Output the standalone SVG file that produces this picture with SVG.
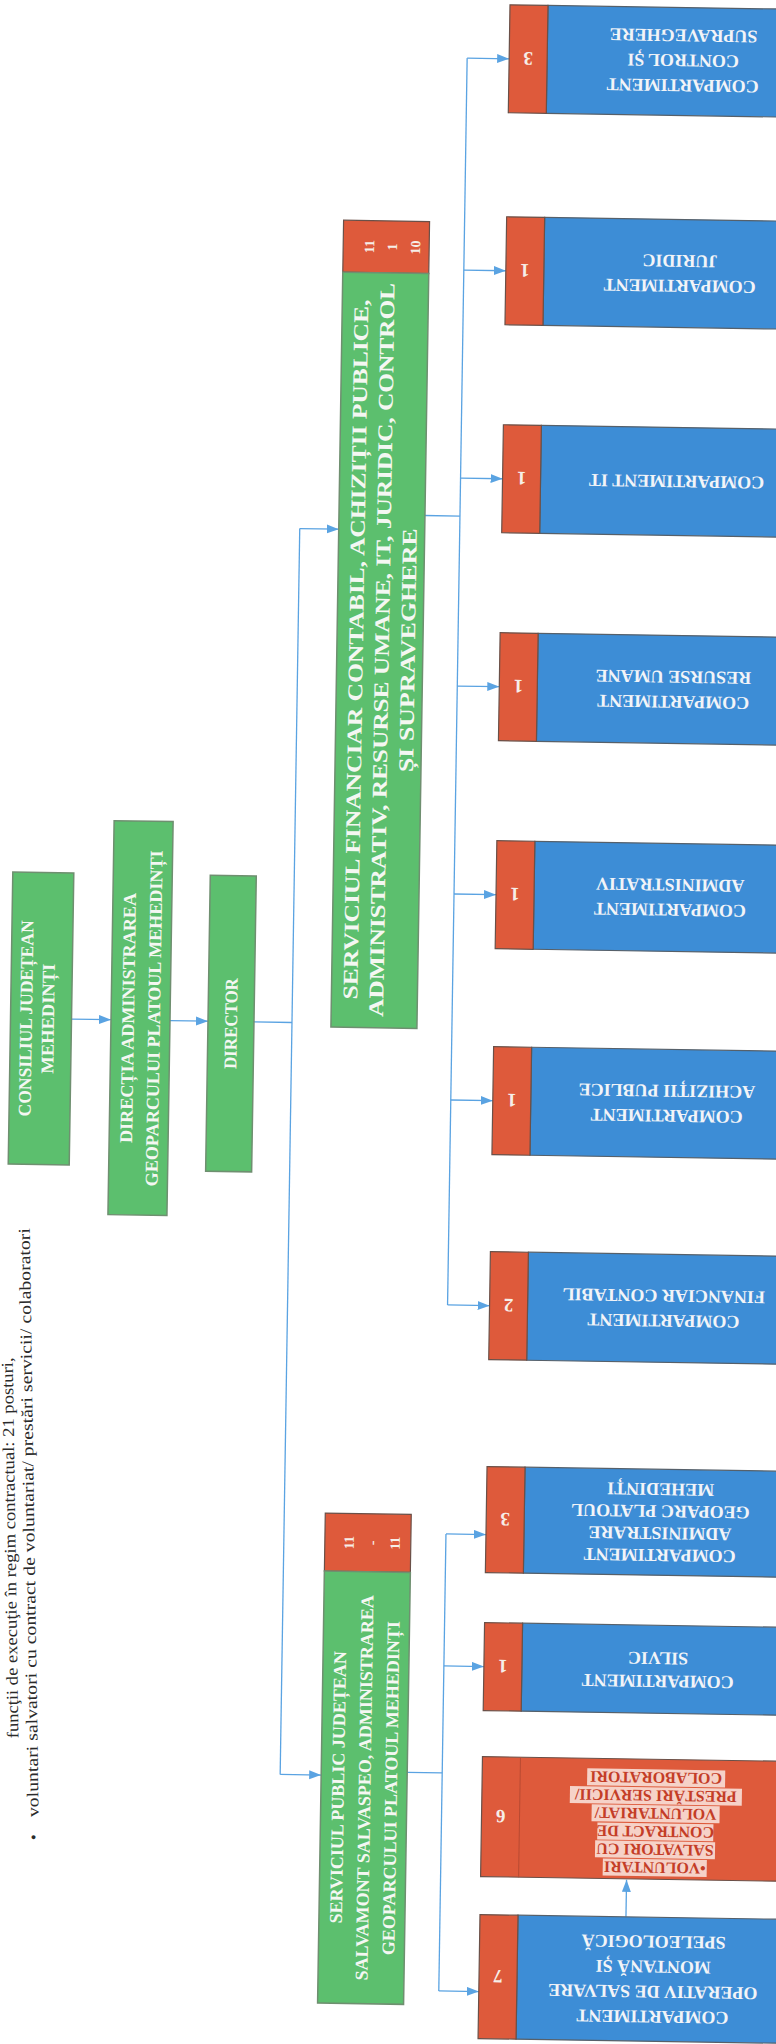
<svg xmlns="http://www.w3.org/2000/svg" width="776" height="2044" viewBox="0 0 776 2044">
<defs>
<marker id="ah" markerUnits="userSpaceOnUse" markerWidth="12" markerHeight="10" refX="12" refY="4.5" orient="auto">
<path d="M0,0 L12,4.5 L0,9 z" fill="#5aa3e2"/>
</marker>
<style>
.g{fill:#5cbf6e;stroke:#6f8f70;stroke-width:1.5}
.b{fill:#3d8dd6;stroke:#56606a;stroke-width:1.2}
.r{fill:#de5a3b;stroke:#6a5048;stroke-width:1.2}
.gt{font-family:"Liberation Serif",serif;font-weight:bold;font-size:18px;fill:#f4f7f2;text-anchor:middle}
.gb{font-family:"Liberation Serif",serif;font-weight:bold;font-size:21px;fill:#f4f7f2;text-anchor:middle}
.bt{font-family:"Liberation Serif",serif;font-weight:bold;font-size:18px;fill:#f2f4f8;text-anchor:middle}
.nt{font-family:"Liberation Serif",serif;font-weight:bold;font-size:19px;fill:#f6eee8;text-anchor:middle}
.st{font-family:"Liberation Serif",serif;font-weight:bold;font-size:14px;fill:#f6eee8;text-anchor:middle}
.vt{font-family:"Liberation Serif",serif;font-weight:bold;font-size:16px;fill:#c43d27;text-anchor:middle}
.hl{fill:#f6d2c8}
.c{fill:none;stroke:#5aa3e2;stroke-width:1.3}
.pt{font-family:"Liberation Serif",serif;font-size:16.5px;fill:#2a2a2a}
</style>
</defs>
<rect width="776" height="2044" fill="#ffffff"/>

<g id="page-text" transform="translate(39,1840) rotate(-90.87)">
<text class="pt" x="102" y="-19" textLength="381" lengthAdjust="spacingAndGlyphs">funcţii de execuţie în regim contractual: 21 posturi,</text>
<text class="pt" x="0" y="0">•</text>
<text class="pt" x="23" y="0" textLength="589" lengthAdjust="spacingAndGlyphs">voluntari salvatori cu contract de voluntariat/ prestări servicii/ colaboratori</text>
</g>

<g transform="rotate(0.9 388 1022)">
<g id="connectors">
<line class="c" x1="71.5" y1="1024" x2="111" y2="1024" marker-end="url(#ah)"/>
<line class="c" x1="170" y1="1024" x2="208" y2="1024" marker-end="url(#ah)"/>
<polyline class="c" points="254,1024 292,1024"/>
<line class="c" x1="292" y1="530" x2="292" y2="1776"/>
<line class="c" x1="292" y1="530" x2="331" y2="530" marker-end="url(#ah)"/>
<line class="c" x1="292" y1="1776" x2="333" y2="1776" marker-end="url(#ah)"/>
<line class="c" x1="417" y1="515" x2="452" y2="515"/>
<line class="c" x1="452" y1="57" x2="452" y2="1304"/>
<line class="c" x1="452" y1="57" x2="494" y2="57" marker-end="url(#ah)"/>
<line class="c" x1="452" y1="269" x2="494" y2="269" marker-end="url(#ah)"/>
<line class="c" x1="452" y1="477" x2="494" y2="477" marker-end="url(#ah)"/>
<line class="c" x1="452" y1="685" x2="494" y2="685" marker-end="url(#ah)"/>
<line class="c" x1="452" y1="893" x2="494" y2="893" marker-end="url(#ah)"/>
<line class="c" x1="452" y1="1099" x2="494" y2="1099" marker-end="url(#ah)"/>
<line class="c" x1="452" y1="1304" x2="494" y2="1304" marker-end="url(#ah)"/>
<line class="c" x1="419" y1="1772" x2="454" y2="1772"/>
<line class="c" x1="454" y1="1533" x2="454" y2="1990"/>
<line class="c" x1="454" y1="1533" x2="494" y2="1533" marker-end="url(#ah)"/>
<line class="c" x1="454" y1="1665" x2="494" y2="1665" marker-end="url(#ah)"/>
<line class="c" x1="454" y1="1990" x2="494" y2="1990" marker-end="url(#ah)"/>
<line class="c" x1="640" y1="1913" x2="640" y2="1876" marker-end="url(#ah)"/>
</g>

<g id="consiliul">
<rect class="g" x="10.5" y="878" width="61" height="292"/>
<g transform="rotate(-90 41 1024)">
<text class="gt" x="41" y="1015" textLength="196" lengthAdjust="spacingAndGlyphs">CONSILIUL JUDEȚEAN</text>
<text class="gt" x="41" y="1037" textLength="110" lengthAdjust="spacingAndGlyphs">MEHEDINȚI</text>
</g>
</g>

<g id="directia">
<rect class="g" x="111" y="825" width="59" height="394"/>
<g transform="rotate(-90 140.5 1022)">
<text class="gt" x="140.5" y="1015.5" textLength="250" lengthAdjust="spacingAndGlyphs">DIRECȚIA ADMINISTRAREA</text>
<text class="gt" x="140.5" y="1041.5" textLength="336" lengthAdjust="spacingAndGlyphs">GEOPARCULUI PLATOUL MEHEDINȚI</text>
</g>
</g>

<g id="director">
<rect class="g" x="208" y="878" width="46" height="296"/>
<g transform="rotate(-90 231 1026)">
<text class="gt" x="231" y="1032" textLength="91" lengthAdjust="spacingAndGlyphs">DIRECTOR</text>
</g>
</g>

<g id="serviciul-financiar">
<rect class="r" x="331" y="221" width="86" height="52"/>
<rect class="g" x="331" y="273" width="86" height="755"/>
<g transform="rotate(-90 374 247)">
<text class="st" x="374" y="235">11</text>
<text class="st" x="374" y="258">1</text>
<text class="st" x="374" y="281">10</text>
</g>
<g transform="rotate(-90 374 650)">
<text class="gb" x="374" y="633" textLength="700" lengthAdjust="spacingAndGlyphs">SERVICIUL FINANCIAR CONTABIL, ACHIZIȚII PUBLICE,</text>
<text class="gb" x="374" y="659" textLength="734" lengthAdjust="spacingAndGlyphs">ADMINISTRATIV, RESURSE UMANE, IT, JURIDIC, CONTROL</text>
<text class="gb" x="374" y="685" textLength="244" lengthAdjust="spacingAndGlyphs">ȘI SUPRAVEGHERE</text>
</g>
</g>

<g id="serviciul-salvamont">
<rect class="r" x="333" y="1514" width="86" height="58"/>
<rect class="g" x="333" y="1572" width="86" height="432"/>
<g transform="rotate(-90 376 1543)">
<text class="st" x="376" y="1529">11</text>
<text class="st" x="376" y="1552">-</text>
<text class="st" x="376" y="1575">11</text>
</g>
<g transform="rotate(-90 376 1788)">
<text class="gt" x="376" y="1768">SERVICIUL PUBLIC JUDEȚEAN</text>
<text class="gt" x="376" y="1794.5">SALVAMONT SALVASPEO, ADMINISTRAREA</text>
<text class="gt" x="376" y="1821">GEOPARCULUI PLATOUL MEHEDINȚI</text>
</g>
</g>

<g id="c-control">
<rect class="b" x="532" y="3" width="270" height="108"/><rect class="r" x="494" y="3" width="38" height="108"/>
<text class="nt" x="513" y="64" transform="rotate(180 513 57)">3</text>
<g transform="rotate(180 668 56)"><text class="bt" x="668" y="37">COMPARTIMENT</text><text class="bt" x="668" y="62">CONTROL ȘI</text><text class="bt" x="668" y="87">SUPRAVEGHERE</text></g>
</g>
<g id="c-juridic">
<rect class="b" x="532" y="215" width="270" height="108"/><rect class="r" x="494" y="215" width="38" height="108"/>
<text class="nt" x="513" y="276" transform="rotate(180 513 269)">1</text>
<g transform="rotate(180 668 269)"><text class="bt" x="668" y="262.5">COMPARTIMENT</text><text class="bt" x="668" y="287.5">JURIDIC</text></g>
</g>
<g id="c-it">
<rect class="b" x="532" y="423" width="270" height="108"/><rect class="r" x="494" y="423" width="38" height="108"/>
<text class="nt" x="513" y="484" transform="rotate(180 513 477)">1</text>
<g transform="rotate(180 668 477)"><text class="bt" x="668" y="483">COMPARTIMENT IT</text></g>
</g>
<g id="c-resurse">
<rect class="b" x="532" y="631" width="270" height="108"/><rect class="r" x="494" y="631" width="38" height="108"/>
<text class="nt" x="513" y="692" transform="rotate(180 513 685)">1</text>
<g transform="rotate(180 668 685)"><text class="bt" x="668" y="678.5">COMPARTIMENT</text><text class="bt" x="668" y="703.5">RESURSE UMANE</text></g>
</g>
<g id="c-administrativ">
<rect class="b" x="532" y="839" width="270" height="108"/><rect class="r" x="494" y="839" width="38" height="108"/>
<text class="nt" x="513" y="900" transform="rotate(180 513 893)">1</text>
<g transform="rotate(180 668 893)"><text class="bt" x="668" y="886.5">COMPARTIMENT</text><text class="bt" x="668" y="911.5">ADMINISTRATIV</text></g>
</g>
<g id="c-achizitii">
<rect class="b" x="532" y="1045" width="270" height="108"/><rect class="r" x="494" y="1045" width="38" height="108"/>
<text class="nt" x="513" y="1106" transform="rotate(180 513 1099)">1</text>
<g transform="rotate(180 668 1099)"><text class="bt" x="668" y="1092.5">COMPARTIMENT</text><text class="bt" x="668" y="1117.5">ACHIZIȚII PUBLICE</text></g>
</g>
<g id="c-financiar">
<rect class="b" x="532" y="1250" width="270" height="108"/><rect class="r" x="494" y="1250" width="38" height="108"/>
<text class="nt" x="513" y="1311" transform="rotate(180 513 1304)">2</text>
<g transform="rotate(180 668 1304)"><text class="bt" x="668" y="1297.5">COMPARTIMENT</text><text class="bt" x="668" y="1322.5">FINANCIAR CONTABIL</text></g>
</g>
<g id="c-geoparc">
<rect class="b" x="532" y="1465" width="270" height="106"/><rect class="r" x="494" y="1465" width="38" height="106"/>
<text class="nt" x="513" y="1525" transform="rotate(180 513 1518)">3</text>
<g transform="rotate(180 668 1518)"><text class="bt" x="668" y="1491">COMPARTIMENT</text><text class="bt" x="668" y="1513">ADMINISTRARE</text><text class="bt" x="668" y="1535">GEOPARC PLATOUL</text><text class="bt" x="668" y="1557">MEHEDINȚI</text></g>
</g>
<g id="c-silvic">
<rect class="b" x="532" y="1621" width="270" height="88"/><rect class="r" x="494" y="1621" width="38" height="88"/>
<text class="nt" x="513" y="1672" transform="rotate(180 513 1665)">1</text>
<g transform="rotate(180 668 1665)"><text class="bt" x="668" y="1659">COMPARTIMENT</text><text class="bt" x="668" y="1682">SILVIC</text></g>
</g>
<g id="c-voluntari">
<rect class="r" x="494" y="1755" width="308" height="120"/>
<line x1="532" y1="1755" x2="532" y2="1875" stroke="#b84a32" stroke-width="1"/>
<text class="nt" x="513" y="1822" transform="rotate(180 513 1815)">6</text>
<g transform="rotate(180 668 1815)">
<rect class="hl" x="616" y="1758" width="104" height="17"/>
<rect class="hl" x="608" y="1776" width="120" height="17"/>
<rect class="hl" x="610" y="1794" width="116" height="17"/>
<rect class="hl" x="604" y="1812" width="128" height="17"/>
<rect class="hl" x="582" y="1830" width="172" height="17"/>
<rect class="hl" x="599" y="1848" width="138" height="17"/>
<text class="vt" x="668" y="1772">•VOLUNTARI</text><text class="vt" x="668" y="1790">SALVATORI CU</text><text class="vt" x="668" y="1808">CONTRACT DE</text><text class="vt" x="668" y="1826">VOLUNTARIAT/</text><text class="vt" x="668" y="1844">PRESTĂRI SERVICII/</text><text class="vt" x="668" y="1862">COLABORATORI</text>
</g>
</g>
<g id="c-operativ">
<rect class="b" x="532" y="1913" width="270" height="124"/><rect class="r" x="494" y="1913" width="38" height="124"/>
<text class="nt" x="513" y="1982" transform="rotate(180 513 1975)">7</text>
<g transform="rotate(180 668 1975)"><text class="bt" x="668" y="1943.5">COMPARTIMENT</text><text class="bt" x="668" y="1968.5">OPERATIV DE SALVARE</text><text class="bt" x="668" y="1993.5">MONTANĂ ȘI</text><text class="bt" x="668" y="2018.5">SPELEOLOGICĂ</text></g>
</g>
</g>
</svg>
